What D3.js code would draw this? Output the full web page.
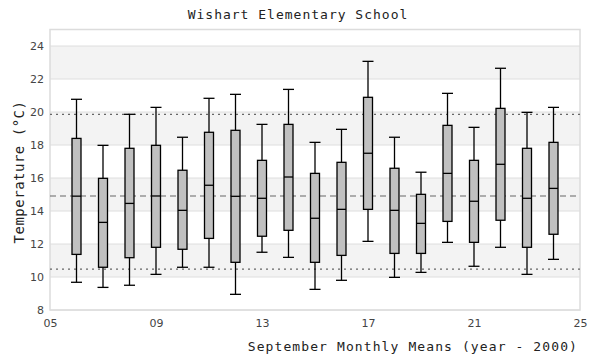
<!DOCTYPE html>
<html>
<head>
<meta charset="utf-8">
<script src="https://cdn.jsdelivr.net/npm/d3@7"></script>
<style>
  body { margin: 0; background: #fff; }
  text { font-family: "DejaVu Sans", sans-serif; }
  .mono { font-family: "DejaVu Sans Mono", "Liberation Mono", monospace; }
</style>
</head>
<body>
<div id="chart"></div>
<script>
// data
var years   = [6, 7, 8, 9, 10, 11, 12, 13, 14, 15, 16, 17, 18, 19, 20, 21, 22, 23, 24];
var whiskLo = [9.68, 9.37, 9.5, 10.16, 10.59, 10.59, 8.95, 11.5, 11.19, 9.25, 9.8, 12.16, 9.98, 10.28, 12.1, 10.65, 11.8, 10.16, 11.07];
var boxLo   = [11.37, 10.59, 11.17, 11.8, 11.68, 12.34, 10.89, 12.47, 12.83, 10.89, 11.31, 14.1, 11.43, 11.43, 13.37, 12.1, 13.44, 11.8, 12.59];
var medians = [14.9, 13.31, 14.46, 14.91, 14.04, 15.56, 14.89, 14.77, 16.06, 13.56, 14.1, 17.5, 14.04, 13.25, 16.28, 14.59, 16.83, 14.77, 15.37];
var boxHi   = [18.4, 15.98, 17.8, 17.98, 16.47, 18.77, 18.89, 17.07, 19.25, 16.28, 16.95, 20.89, 16.59, 15.01, 19.19, 17.07, 20.22, 17.8, 18.16];
var whiskHi = [20.77, 17.98, 19.86, 20.28, 18.47, 20.83, 21.07, 19.25, 21.37, 18.16, 18.95, 23.07, 18.47, 16.35, 21.13, 19.07, 22.65, 19.98, 20.28];

var yTicks = [8, 10, 12, 14, 16, 18, 20, 22, 24];
var xTicks = [5, 9, 13, 17, 21, 25];
var bands = [[10, 12], [14, 16], [18, 20], [22, 24]];
var refMean = 14.91;
var refLo = 10.48;
var refHi = 19.86;

var W = 600, H = 360;
var m = { left: 50, right: 20, top: 29.5, bottom: 50 };

var svg = d3.select("#chart").append("svg").attr("width", W).attr("height", H);

var x = d3.scaleLinear().domain([5, 25]).range([m.left, W - m.right]);
var y = d3.scaleLinear().domain([8, 25]).range([H - m.bottom, m.top]);

// bands
svg.selectAll("rect.band").data(bands).enter().append("rect")
    .attr("x", x(5)).attr("width", x(25) - x(5))
    .attr("y", function(d) { return y(d[1]); })
    .attr("height", function(d) { return y(d[0]) - y(d[1]); })
    .style("fill", "#f3f3f3");

// grid
svg.selectAll("line.grid").data(yTicks).enter().append("line")
    .attr("x1", x(5)).attr("x2", x(25))
    .attr("y1", function(d) { return y(d); }).attr("y2", function(d) { return y(d); })
    .style("stroke", "#dedede").style("stroke-width", 1);

// frame
svg.append("rect")
    .attr("x", x(5)).attr("y", y(25))
    .attr("width", x(25) - x(5)).attr("height", y(8) - y(25))
    .style("fill", "none").style("stroke", "#dcdcdc").style("stroke-width", 1.5);

// reference lines
function refLine(v, dash) {
    svg.append("line")
        .attr("x1", x(5)).attr("x2", x(25))
        .attr("y1", y(v)).attr("y2", y(v))
        .style("stroke", "#666").style("stroke-width", 1.2)
        .style("stroke-dasharray", dash);
}
refLine(refHi, "2,4");
refLine(refLo, "2,4");
refLine(refMean, "6,4");

// axes
var yAxis = d3.axisLeft(y).tickValues(yTicks).tickSize(0).tickPadding(6);
var gy = svg.append("g").attr("transform", "translate(" + m.left + ",0)").call(yAxis);
gy.select(".domain").remove();
gy.selectAll("text").style("font-size", "11px").style("fill", "#444");

var xAxis = d3.axisBottom(x).tickValues(xTicks).tickSize(0).tickPadding(9)
    .tickFormat(function(d) { return d3.format("02d")(d); });
var gx = svg.append("g").attr("transform", "translate(0," + (H - m.bottom) + ")").call(xAxis);
gx.select(".domain").remove();
gx.selectAll("text").style("font-size", "11px").style("fill", "#444");

// boxes
var bw = 9;
var boxes = svg.selectAll("g.box").data(years).enter().append("g")
    .attr("class", "box");

boxes.append("line")
    .attr("x1", function(d) { return x(d); }).attr("x2", function(d) { return x(d); })
    .attr("y1", function(d, i) { return y(whiskLo[i]); })
    .attr("y2", function(d, i) { return y(whiskHi[i]); })
    .style("stroke", "#000").style("stroke-width", 1.3);

[whiskLo, whiskHi].forEach(function(arr) {
    boxes.append("line")
        .attr("x1", function(d) { return x(d) - bw / 2 - 1; })
        .attr("x2", function(d) { return x(d) + bw / 2 + 1; })
        .attr("y1", function(d, i) { return y(arr[i]); })
        .attr("y2", function(d, i) { return y(arr[i]); })
        .style("stroke", "#000").style("stroke-width", 1.3);
});

boxes.append("rect")
    .attr("x", function(d) { return x(d) - bw / 2; })
    .attr("width", bw)
    .attr("y", function(d, i) { return y(boxHi[i]); })
    .attr("height", function(d, i) { return y(boxLo[i]) - y(boxHi[i]); })
    .style("fill", "#c0c0c0").style("stroke", "#000").style("stroke-width", 1.3);

boxes.append("line")
    .attr("x1", function(d) { return x(d) - bw / 2; })
    .attr("x2", function(d) { return x(d) + bw / 2; })
    .attr("y1", function(d, i) { return y(medians[i]); })
    .attr("y2", function(d, i) { return y(medians[i]); })
    .style("stroke", "#000").style("stroke-width", 1.3);

// titles
svg.append("text").attr("class", "mono")
    .attr("x", 298).attr("y", 19)
    .attr("text-anchor", "middle")
    .style("font-size", "13px").style("letter-spacing", "1px").style("fill", "#222")
    .text("Wishart Elementary School");

svg.append("text").attr("class", "mono")
    .attr("x", 578).attr("y", 351)
    .attr("text-anchor", "end")
    .style("font-size", "13px").style("letter-spacing", "1.1px").style("fill", "#222")
    .text("September Monthly Means (year - 2000)");

svg.append("text").attr("class", "mono")
    .attr("transform", "translate(24,172) rotate(-90)")
    .attr("text-anchor", "middle")
    .style("font-size", "14px").style("letter-spacing", "0.5px").style("fill", "#222")
    .text("Temperature (°C)");
</script>
</body>
</html>
